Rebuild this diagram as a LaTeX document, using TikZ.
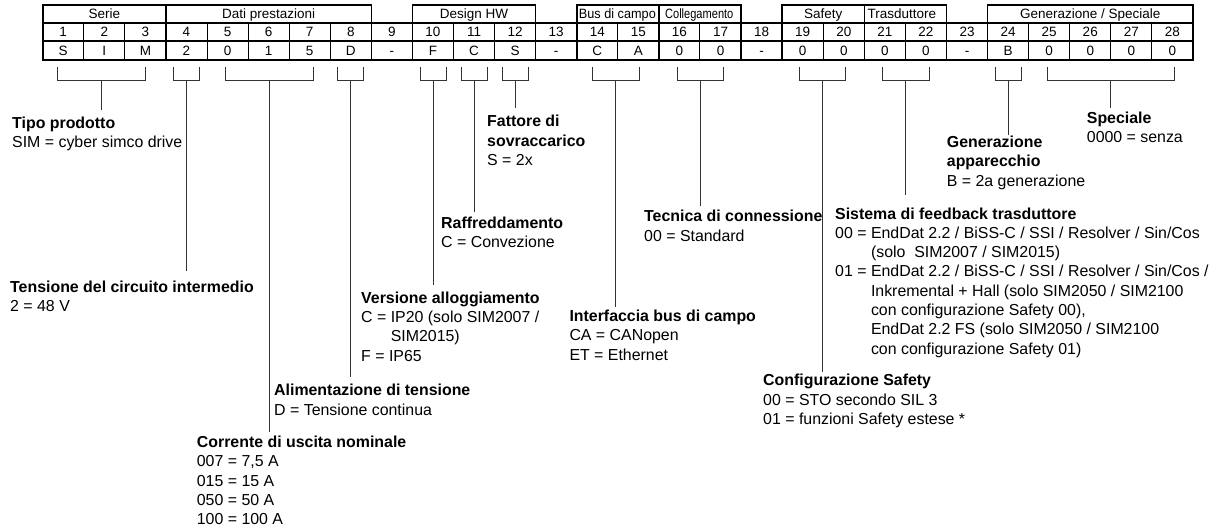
\documentclass[tikz,border=0pt]{standalone}
\usepackage{fontspec}
\setmainfont{Liberation Sans}
\begin{document}
\begin{tikzpicture}[x=1pt,y=-1pt,
  lbl/.style={anchor=north west, inner sep=0pt, align=left, font=\fontsize{15.9}{19.3}\selectfont},
  tbl/.style={anchor=base, inner sep=0pt, font=\fontsize{13.5}{15}\selectfont},
  tblw/.style={anchor=base west, inner sep=0pt, font=\fontsize{13.5}{15}\selectfont},
  thickl/.style={line width=1.6pt, line cap=rect},
  thinl/.style={line width=1pt},
  midl/.style={line width=1.2pt, line cap=rect},
  brk/.style={draw=black!80, line width=0.9pt}]
\useasboundingbox (0,0) rectangle (1217,530);
\def\xl#1{42.7+(#1)*41.08}
% ---- table: title boxes
\foreach \a/\b in {0/3,3/8,9/12,13/15,15/17,18/20,20/22,23/28} {
  \draw[thickl] ({\xl{\a}},23) -- ({\xl{\a}},5) -- ({\xl{\b}},5) -- ({\xl{\b}},23);
}
\draw[midl] ({\xl{0}},23) -- ({\xl{28}},23);
\draw[midl] ({\xl{0}},41) -- ({\xl{28}},41);
\draw[thickl] ({\xl{0}},60) -- ({\xl{28}},60);
\foreach \k in {1,2,4,5,6,7,10,11,14,16,19,21,24,25,26,27} {
  \draw[thinl] ({\xl{\k}},23) -- ({\xl{\k}},60);
}
\foreach \k in {0,3,8,9,12,13,15,17,18,20,22,23,28} {
  \draw[thickl] ({\xl{\k}},23) -- ({\xl{\k}},60);
}
% title texts
\node[tbl] (g1) at ({\xl{1.5}},18.8) {Serie};
\node[tbl] (g2) at ({\xl{5.5}},18.8) {Dati prestazioni};
\node[tbl] (g3) at ({\xl{10.5}},18.8) {Design HW};
\node[tblw] (g4) at ({\xl{13}+2},18.8) {\scalebox{0.94}[1]{Bus di campo}};
\node[tblw] (g5) at ({\xl{15}+6},18.8) {\scalebox{0.82}[1]{Collegamento}};
\node[tbl] (g6) at ({\xl{19}},18.8) {Safety};
\node[tblw] (g7) at ({\xl{20}+3},18.8) {Trasduttore};
\node[tbl] (g8) at ({\xl{25.5}},18.8) {Generazione / Speciale};
% numbers and code letters
\foreach \c [count=\i] in {S,I,M,2,0,1,5,D,-,F,C,S,-,C,A,0,0,-,0,0,0,0,-,B,0,0,0,0} {
  \node[tbl] (n\i) at ({\xl{\i-0.5}},36.8) {\i};
  \node[tbl] (v\i) at ({\xl{\i-0.5}},55.3) {\c};
}
% ---- brackets and stems
\foreach \n/\a/\b/\e in {1/57/145.7/110, 2/173.5/199.5/270.7, 3/225.7/313/431.7,
  4/337.8/363.8/376.7, 5/420/446/285, 6/461/487/211.7, 7/502/528/108,
  8/592/639/306.7, 9/677/723/206, 10/799/845.7/371.7, 11/882/929/195,
  12/995.7/1021.7/135, 13/1047/1174/108.3} {
  \draw[brk] (\a,67) -- (\a,80) -- (\b,80) -- (\b,67);
  \coordinate (bm\n) at ({(\a+\b)/2},80);
  \coordinate (be\n) at ({(\a+\b)/2},\e);
  \draw[brk] (bm\n) -- (be\n);
}
% ---- labels
\node[lbl] (l1) at (12,114.7) {\strut\textbf{Tipo prodotto}\\SIM = cyber simco drive};
\node[lbl] (l2) at (10,278.7) {\strut\textbf{Tensione del circuito intermedio}\\2 = 48 V};
\node[lbl] (l3) at (196.7,433.7) {\strut\textbf{Corrente di uscita nominale}\\007 = 7,5 A\\015 = 15 A\\050 = 50 A\\100 = 100 A};
\node[lbl] (l4) at (274,382) {\strut\textbf{Alimentazione di tensione}\\D = Tensione continua};
\node[lbl] (l5) at (361,289.5) {\strut\textbf{Versione alloggiamento}\\C = IP20 (solo SIM2007 /\\\phantom{C = }SIM2015)\\F = IP65};
\node[lbl] (l6) at (441,214.3) {\strut\textbf{Raffreddamento}\\C = Convezione};
\node[lbl] (l7) at (487,113) {\strut\textbf{Fattore di}\\\textbf{sovraccarico}\\S = 2x};
\node[lbl] (l8) at (569.3,307.7) {\strut\textbf{Interfaccia bus di campo}\\CA = CANopen\\ET = Ethernet};
\node[lbl] (l9) at (644,208) {\strut\textbf{Tecnica di connessione}\\00 = Standard};
\node[lbl] (l10) at (763,372) {\strut\textbf{Configurazione Safety}\\00 = STO secondo SIL 3\\01 = funzioni Safety estese *};
\node[lbl] (l11) at (835,205.3) {\strut\textbf{Sistema di feedback trasduttore}\\
  00 = EndDat 2.2 / BiSS-C / SSI / Resolver / Sin/Cos\\
  \phantom{00 = }(solo\ \ SIM2007 / SIM2015)\\
  01 = EndDat 2.2 / BiSS-C / SSI / Resolver / Sin/Cos /\\
  \phantom{00 = }Inkremental + Hall (solo SIM2050 / SIM2100\\
  \phantom{00 = }con configurazione Safety 00),\\
  \phantom{00 = }EndDat 2.2 FS (solo SIM2050 / SIM2100\\
  \phantom{00 = }con configurazione Safety 01)};
\node[lbl] (l12) at (946.7,133.7) {\strut\textbf{Generazione}\\\textbf{apparecchio}\\B = 2a generazione};
\node[lbl] (l13) at (1086.7,109.7) {\strut\textbf{Speciale}\\0000 = senza};
\end{tikzpicture}
\end{document}
